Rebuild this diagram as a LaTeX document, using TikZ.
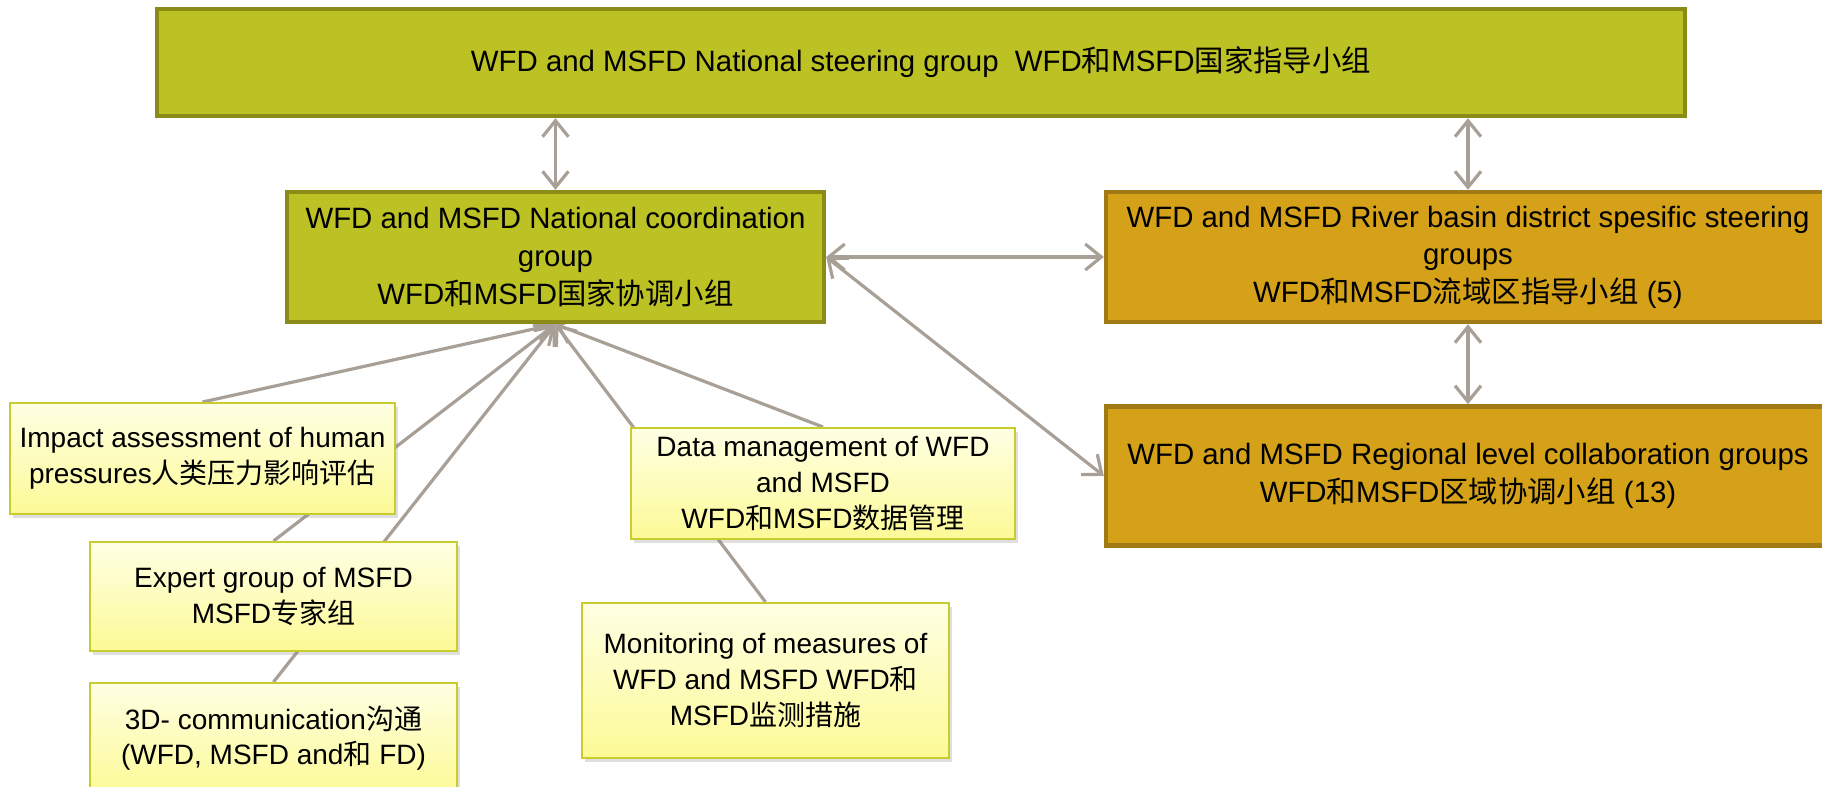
\documentclass[tikz,border=0pt]{standalone}
\usepackage{fontspec}
\setmainfont{Liberation Sans}
\newfontfamily\zhfont{Noto Sans CJK SC}
\newcommand{\zh}[1]{{\zhfont #1}}
\usetikzlibrary{arrows.meta, positioning, shadows, backgrounds}
\definecolor{steercolor}{RGB}{188, 193, 36}
\definecolor{steerline}{RGB}{139, 140, 24}
\definecolor{basincolor}{RGB}{212, 161, 24}
\definecolor{basinline}{RGB}{160, 122, 20}
\definecolor{notetop}{RGB}{255, 255, 228}
\definecolor{notebottom}{RGB}{252, 250, 150}
\definecolor{noteline}{RGB}{200, 205, 45}
\definecolor{arrowcolor}{RGB}{168, 160, 150}

\begin{document}
\begin{tikzpicture}[
    x=0.5pt, y=-0.5pt,
    % Group boxes - national level
    natbox/.style={
        rectangle,
        inner sep=0pt,
        minimum width=268.5pt,
        minimum height=65pt,
        align=center,
        font=\fontsize{14.7}{18.8}\selectfont,
        line width=2.2pt,
        fill=steercolor,
        draw=steerline
    },
    % Group boxes - river basin / regional level
    basinbox/.style={
        natbox,
        minimum width=362pt,
        fill=basincolor,
        draw=basinline
    },
    % Task boxes - light yellow with shadow
    taskbox/.style={
        rectangle,
        inner sep=0pt,
        minimum width=183.5pt,
        minimum height=55pt,
        align=center,
        font=\fontsize{14}{17.8}\selectfont,
        top color=notetop,
        bottom color=notebottom,
        draw=noteline,
        line width=1pt,
        drop shadow={shadow xshift=1.5pt, shadow yshift=-2pt, opacity=0.25}
    },
    % Arrow styles
    feedarrow/.style={
        -{Straight Barb[length=8pt, width=13pt]},
        line width=1.6pt,
        color=arrowcolor
    },
    biarrow/.style={
        feedarrow,
        {Straight Barb[length=8pt, width=13pt]}-{Straight Barb[length=8pt, width=13pt]}
    }
]
\useasboundingbox (0,0) rectangle (1822,787);

% ===== GROUP BOXES =====

\node[natbox, minimum width=764pt, minimum height=53.5pt] (top) at (921,62.5)
    {WFD and MSFD National steering group\ \ WFD\zh{和}MSFD\zh{国家指导小组}};

\node[natbox] (coord) at (555.5,257) {
    WFD and MSFD National coordination\\
    group\\
    WFD\zh{和}MSFD\zh{国家协调小组}
};

\node[basinbox] (basin) at (1468,257) {
    WFD and MSFD River basin district spesific steering\\
    groups\\
    WFD\zh{和}MSFD\zh{流域区指导小组} (5)
};

\node[basinbox, minimum height=69.5pt, below=40pt of basin] (regional) {
    WFD and MSFD Regional level collaboration groups\\
    WFD\zh{和}MSFD\zh{区域协调小组} (13)
};

% ===== TASK BOXES =====

\node[taskbox, minimum width=192.5pt, minimum height=55.5pt] (impact) at (202.5,458.5) {
    Impact assessment of human\\
    pressures\zh{人类压力影响评估}
};

\node[taskbox, minimum height=54.5pt] (expert) at (273.5,596.5) {
    Expert group of MSFD\\
    MSFD\zh{专家组}
};

\node[taskbox, below=15pt of expert] (comm) {
    3D- communication\zh{沟通}\\
    (WFD, MSFD and\zh{和} FD)
};

\node[taskbox, minimum width=192pt, minimum height=55.5pt] (data) at (823,483.5) {
    Data management of WFD\\
    and MSFD\\
    WFD\zh{和}MSFD\zh{数据管理}
};

\node[taskbox, minimum height=77.5pt] (monitor) at (765.5,680.5) {
    Monitoring of measures of\\
    WFD and MSFD WFD\zh{和}\\
    MSFD\zh{监测措施}
};

% ===== CONNECTORS (behind boxes) =====

\begin{scope}[on background layer]
\draw[biarrow] (top.south -| coord.north) -- (coord.north);
\draw[biarrow] (top.south -| basin.north) -- (basin.north);
\draw[biarrow] (basin.south) -- (regional.north);
\draw[biarrow] (coord.east) -- (basin.west);
\draw[biarrow] (coord.east) -- (regional.west);

\foreach \src in {impact, expert, comm, data, monitor}
    \draw[feedarrow] (\src.north) -- (coord.south);
\end{scope}

\end{tikzpicture}
\end{document}
